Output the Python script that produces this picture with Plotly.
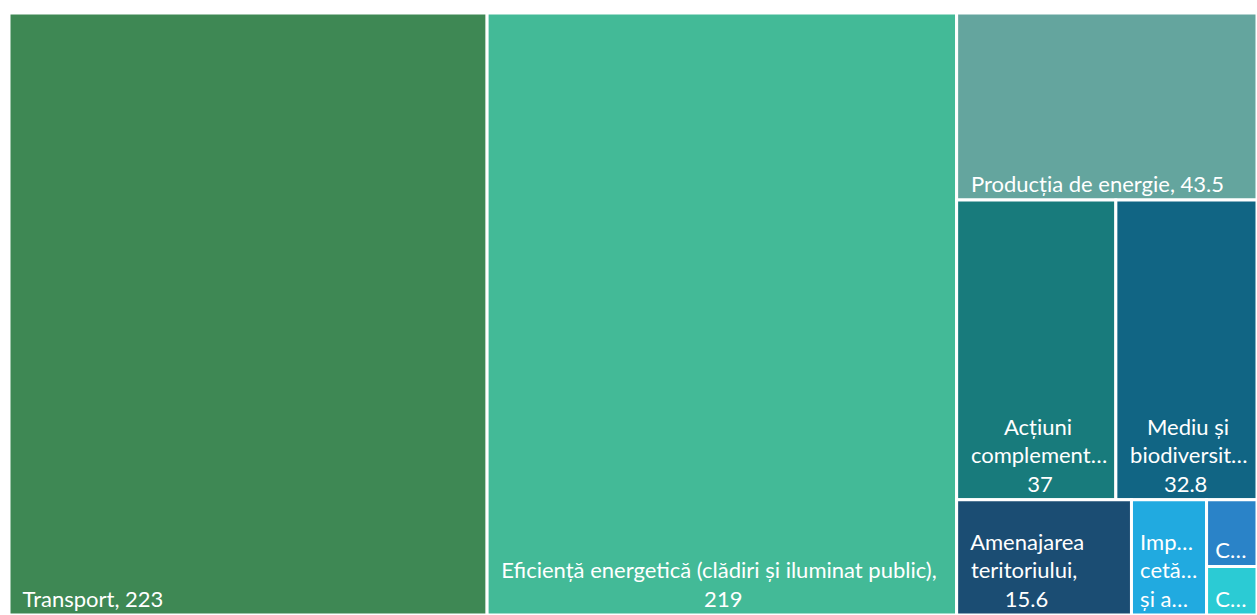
import plotly.graph_objects as go

# Budget allocation per thematic area
categories = [
    "Transport",
    "Eficiență energetică (clădiri și iluminat public)",
    "Producția de energie",
    "Acțiuni complementare",
    "Mediu și biodiversitate",
    "Amenajarea teritoriului",
    "Implicarea cetățenilor și a părților interesate",
    "Comunicare",
    "Colectarea deșeurilor",
]
values = [223, 219, 43.5, 37, 32.8, 15.6, 6.7, 2.6, 1.9]

colors = [
    "#3E8854", "#43BA97", "#64A59E", "#187B7C", "#116584",
    "#1B4D73", "#21AAE0", "#2A83C8", "#2BCBD4",
]


def sp(n):
    """Non-breaking spaces used to indent / centre label lines."""
    return "\u00a0" * n


# Labels as they fit inside each tile (lines centred against each other)
tile_text = [
    sp(2) + "Transport, 223",
    sp(2) + "Eficiență energetică (clădiri și iluminat public),<br>" + sp(38) + "219",
    sp(2) + "Producția de energie, 43.5",
    sp(8) + "Acțiuni<br>" + sp(2) + "complement…<br>" + sp(12) + "37",
    sp(5) + "Mediu și<br>" + sp(2) + "biodiversit…<br>" + sp(8) + "32.8",
    sp(2) + "Amenajarea<br>" + sp(2) + "teritoriului,<br>" + sp(8) + "15.6",
    sp(1) + "Imp…<br>" + sp(1) + "cetă…<br>" + sp(1) + "și a…",
    sp(1) + "C…",
    sp(1) + "C…",
]

fig = go.Figure(
    go.Treemap(
        labels=categories,
        parents=[""] * len(categories),
        values=values,
        text=tile_text,
        texttemplate="%{text}",
        textposition="bottom left",
        textfont=dict(family="Lato", size=22, color="white"),
        marker=dict(
            colors=colors,
            line=dict(color="white", width=3),
            pad=dict(t=0, l=0, r=0, b=0),
        ),
        tiling=dict(packing="squarify", squarifyratio=1.15, pad=0),
        pathbar=dict(visible=False),
        sort=True,
        hovertemplate="%{label}: %{value}<extra></extra>",
    )
)

fig.update_layout(
    width=1257,
    height=615,
    margin=dict(l=9, r=0, t=13, b=0),
    paper_bgcolor="white",
)

fig.write_html("out.html")
